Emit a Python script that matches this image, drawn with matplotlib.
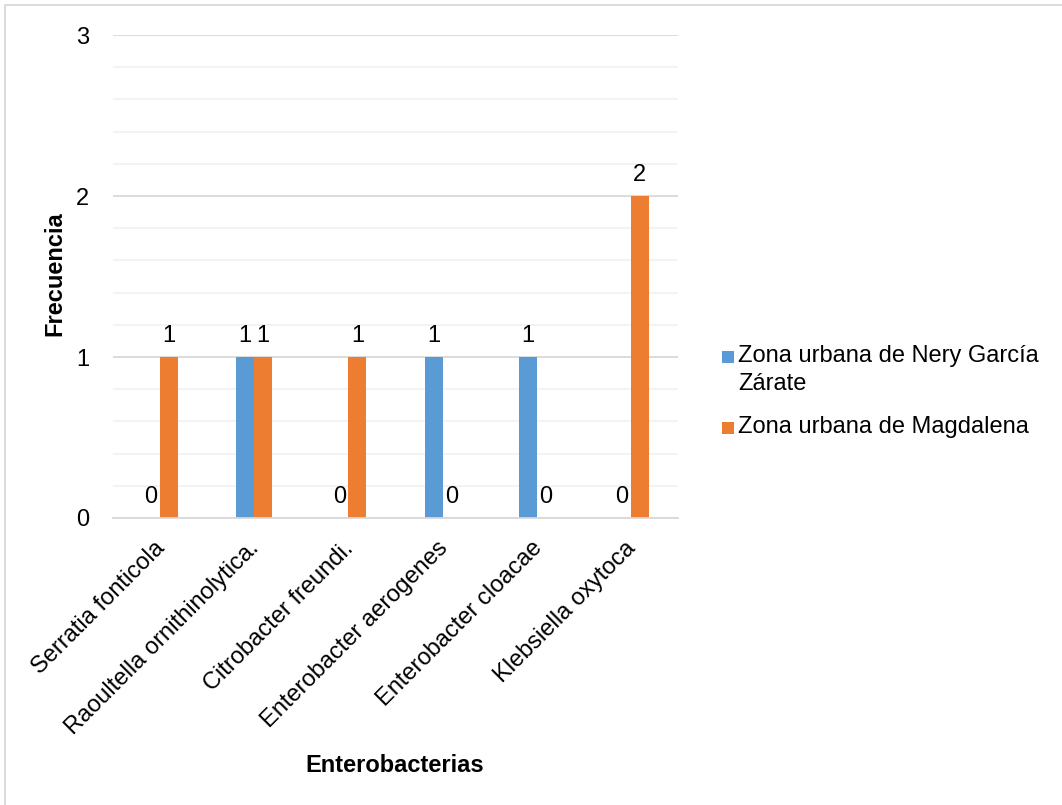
import numpy as np
import matplotlib
matplotlib.use('Agg')
import matplotlib.pyplot as plt
from matplotlib.patches import Rectangle
from matplotlib.ticker import MultipleLocator
from matplotlib.transforms import ScaledTranslation

plt.rcParams['font.family'] = ['Liberation Sans', 'DejaVu Sans']

categories = ['Serratia fonticola', 'Raoultella ornithinolytica.', 'Citrobacter freundi.',
              'Enterobacter aerogenes', 'Enterobacter cloacae', 'Klebsiella oxytoca']
nery = [0, 1, 0, 1, 1, 0]
magdalena = [1, 1, 1, 0, 0, 2]
series_names = ['Zona urbana de Nery García\nZárate', 'Zona urbana de Magdalena']

BLUE = '#5B9BD5'
ORANGE = '#ED7D31'
FS = 17
W, H = 1062, 805

fig = plt.figure(figsize=(W / 100, H / 100), dpi=100)
ax = fig.add_axes([113 / W, 1 - 518 / H, 565 / W, 483 / H])

x = np.arange(len(categories))
w = 0.19
b1 = ax.bar(x - w / 2, nery, w, color=BLUE, zorder=3)
b2 = ax.bar(x + w / 2, magdalena, w, color=ORANGE, zorder=3)

# data labels (zeros are labelled too)
for bars in (b1, b2):
    for bar in bars:
        h = bar.get_height()
        ax.text(bar.get_x() + bar.get_width() / 2, h + 0.095, f"{h:.0f}",
                ha='center', va='baseline', fontsize=FS, color='#000000')

ax.set_xlim(-0.5, len(categories) - 0.5)
ax.set_ylim(0, 3)
ax.yaxis.set_major_locator(MultipleLocator(1))
ax.yaxis.set_minor_locator(MultipleLocator(0.2))
ax.grid(which='major', axis='y', color='#d9d9d9', linewidth=1.3, zorder=0)
ax.grid(which='minor', axis='y', color='#f2f2f2', linewidth=1.3, zorder=0)

for s in ['top', 'right', 'left']:
    ax.spines[s].set_visible(False)
ax.spines['bottom'].set_color('#d9d9d9')
ax.spines['bottom'].set_linewidth(1.3)
ax.spines['bottom'].set_zorder(4)

ax.tick_params(axis='y', which='both', length=0, labelsize=FS, pad=17)
ax.tick_params(axis='x', length=0, labelsize=FS, pad=6)
ax.set_xticks(x)
ax.set_xticklabels(categories, rotation=45, ha='right', va='top', rotation_mode='anchor')
shift = ScaledTranslation(-6 / 100, -11 / 100, fig.dpi_scale_trans)
for lab in ax.get_xticklabels():
    lab.set_transform(lab.get_transform() + shift)

# axis titles
fig.text(55 / W, 1 - 274 / H, 'Frecuencia', rotation=90, ha='center', va='center',
         fontsize=FS, fontweight='bold')
fig.text(395 / W, 1 - 765 / H, 'Enterobacterias', ha='center', va='center',
         fontsize=FS, fontweight='bold')

# legend, marker aligned with the first text line as in the original
leg_rows = [357, 428]
for name, color, yc in zip(series_names, [BLUE, ORANGE], leg_rows):
    fig.add_artist(Rectangle((722 / W, 1 - (yc + 6) / H), 12 / W, 12 / H,
                             transform=fig.transFigure, facecolor=color, edgecolor='none'))
    fig.text(738 / W, 1 - (yc - 12) / H, name, ha='left', va='top',
             fontsize=FS, linespacing=1.35)

# chart border
fig.add_artist(Rectangle((5 / W, -0.05), 1.1, 1 - 5 / H + 0.05,
                         transform=fig.transFigure, fill=False,
                         edgecolor='#d9d9d9', linewidth=1.3))

fig.savefig('out.png', dpi=100, facecolor='white')
